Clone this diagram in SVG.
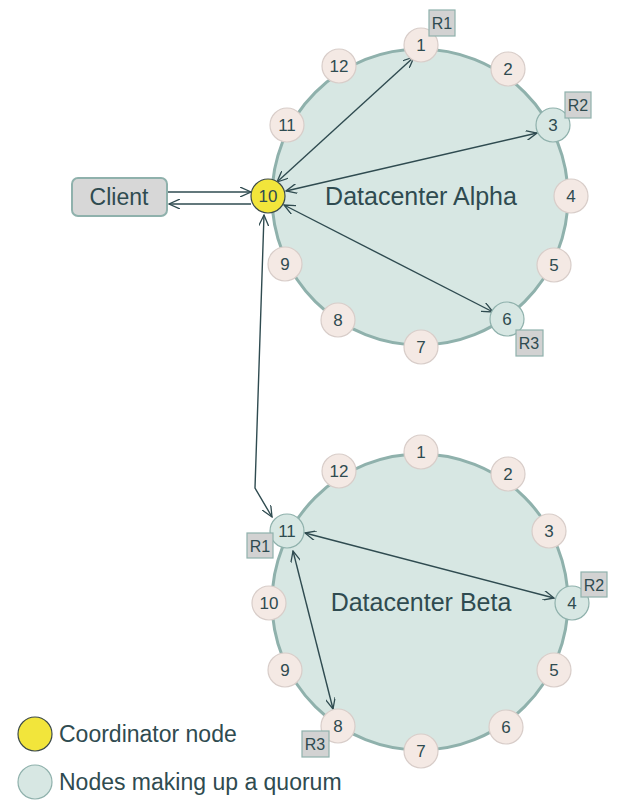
<svg xmlns="http://www.w3.org/2000/svg" width="618" height="811" viewBox="0 0 618 811">
<defs>
<marker id="ah" viewBox="0 0 12 10" refX="11" refY="5" markerWidth="12" markerHeight="10" markerUnits="userSpaceOnUse" orient="auto-start-reverse">
<path d="M0,0 L11,5 L0,10" fill="none" stroke="#2f4b50" stroke-width="1.3"/>
</marker>
<style>
.ring{fill:#d7e7e3;stroke:#8fb1ac;stroke-width:3}
.n{fill:#f4e9e4;stroke:#d8cdc9;stroke-width:1.2}
.q{fill:#d7e7e3;stroke:#8fb1ac;stroke-width:1.2}
.c{fill:#f2e53b;stroke:#3c4a4a;stroke-width:1.2}
.t{font-family:"Liberation Sans",Arial,sans-serif;fill:#2f4b50;text-anchor:middle}
.nt{font-size:17px}
.lab{fill:#d2d2d2;stroke:#8fb1ac;stroke-width:1.2}
.lt{font-size:16px}
.e{fill:none;stroke:#2f4b50;stroke-width:1.4;marker-start:url(#ah);marker-end:url(#ah)}
.e1{fill:none;stroke:#2f4b50;stroke-width:1.4;marker-end:url(#ah)}
</style>
</defs>
<rect width="618" height="811" fill="#ffffff"/>

<g id="alpha">
<circle class="ring" cx="420" cy="197" r="148"/>
<text class="t" x="421" y="205" font-size="25">Datacenter Alpha</text>
</g>
<g id="beta">
<circle class="ring" cx="420" cy="602" r="148"/>
<text class="t" x="421" y="611" font-size="25">Datacenter Beta</text>
</g>

<g id="client">
<rect x="72" y="178" width="95" height="38" rx="6" fill="#d7d7d7" stroke="#8fb1ac" stroke-width="2"/>
<text class="t" x="119" y="205" font-size="23">Client</text>
</g>

<g id="connectors">
<line class="e1" x1="168" y1="192" x2="251" y2="192"/>
<line class="e1" x1="251" y1="204" x2="169" y2="204"/>
<line class="e" x1="277" y1="182" x2="414" y2="57"/>
<line class="e" x1="286" y1="191" x2="537" y2="133"/>
<line class="e" x1="284" y1="205" x2="493" y2="312"/>
<path class="e" d="M264,215 L255,488 L272,517"/>
<line class="e" x1="305" y1="533" x2="554" y2="598"/>
<line class="e" x1="293" y1="551" x2="333" y2="709"/>
</g>

<g id="a1"><circle class="n" cx="421" cy="45" r="17"/><text class="t nt" x="421" y="51">1</text></g>
<g id="a2"><circle class="n" cx="508" cy="69" r="17"/><text class="t nt" x="508" y="75">2</text></g>
<g id="a3"><circle class="q" cx="553" cy="125" r="17"/><text class="t nt" x="553" y="131">3</text></g>
<g id="a4"><circle class="n" cx="571" cy="196" r="17"/><text class="t nt" x="571" y="202">4</text></g>
<g id="a5"><circle class="n" cx="554" cy="265" r="17"/><text class="t nt" x="554" y="271">5</text></g>
<g id="a6"><circle class="q" cx="507" cy="319" r="17"/><text class="t nt" x="507" y="325">6</text></g>
<g id="a7"><circle class="n" cx="421" cy="347" r="17"/><text class="t nt" x="421" y="353">7</text></g>
<g id="a8"><circle class="n" cx="338" cy="320" r="17"/><text class="t nt" x="338" y="326">8</text></g>
<g id="a9"><circle class="n" cx="285" cy="264" r="17"/><text class="t nt" x="285" y="270">9</text></g>
<g id="a10"><circle class="c" cx="268" cy="196" r="17"/><text class="t nt" x="268" y="202">10</text></g>
<g id="a11"><circle class="n" cx="287" cy="125" r="17"/><text class="t nt" x="287" y="131">11</text></g>
<g id="a12"><circle class="n" cx="339" cy="66" r="17"/><text class="t nt" x="339" y="72">12</text></g>

<g id="b1"><circle class="n" cx="421" cy="452" r="17"/><text class="t nt" x="421" y="458">1</text></g>
<g id="b2"><circle class="n" cx="508" cy="474" r="17"/><text class="t nt" x="508" y="480">2</text></g>
<g id="b3"><circle class="n" cx="549" cy="531" r="17"/><text class="t nt" x="549" y="537">3</text></g>
<g id="b4"><circle class="q" cx="572" cy="603" r="17"/><text class="t nt" x="572" y="609">4</text></g>
<g id="b5"><circle class="n" cx="554" cy="670" r="17"/><text class="t nt" x="554" y="676">5</text></g>
<g id="b6"><circle class="n" cx="506" cy="727" r="17"/><text class="t nt" x="506" y="733">6</text></g>
<g id="b7"><circle class="n" cx="421" cy="751" r="17"/><text class="t nt" x="421" y="757">7</text></g>
<g id="b8"><circle class="n" cx="338" cy="726" r="17"/><text class="t nt" x="338" y="732">8</text></g>
<g id="b9"><circle class="n" cx="285" cy="670" r="17"/><text class="t nt" x="285" y="676">9</text></g>
<g id="b10"><circle class="n" cx="269" cy="603" r="17"/><text class="t nt" x="269" y="609">10</text></g>
<g id="b11"><circle class="q" cx="287" cy="531" r="17"/><text class="t nt" x="287" y="537">11</text></g>
<g id="b12"><circle class="n" cx="339" cy="471" r="17"/><text class="t nt" x="339" y="477">12</text></g>

<g id="labels">
<rect class="lab" x="429" y="10" width="26" height="26"/><text class="t lt" x="442" y="29">R1</text>
<rect class="lab" x="565" y="92" width="26" height="26"/><text class="t lt" x="578" y="111">R2</text>
<rect class="lab" x="516" y="330" width="27" height="26"/><text class="t lt" x="529" y="349">R3</text>
<rect class="lab" x="247" y="533" width="26" height="25"/><text class="t lt" x="260" y="552">R1</text>
<rect class="lab" x="581" y="572" width="26" height="25"/><text class="t lt" x="594" y="591">R2</text>
<rect class="lab" x="302" y="731" width="27" height="26"/><text class="t lt" x="315" y="750">R3</text>
</g>

<g id="legend">
<circle class="c" cx="35" cy="734" r="17"/>
<text class="t" x="59" y="742" font-size="23" style="text-anchor:start">Coordinator node</text>
<circle class="q" cx="35" cy="782" r="17"/>
<text class="t" x="59" y="790" font-size="23" style="text-anchor:start">Nodes making up a quorum</text>
</g>
</svg>
